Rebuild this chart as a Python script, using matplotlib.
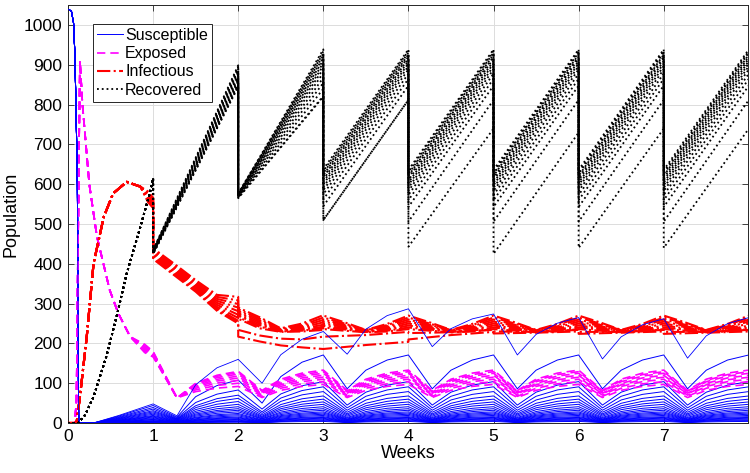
import matplotlib
matplotlib.use("Agg")
import matplotlib.pyplot as plt

plt.rcParams['font.family'] = ['Liberation Sans', 'DejaVu Sans']

# ---------------- Susceptible (blue) ----------------
s_early_t = [0, 0.04, 0.065, 0.08, 0.095, 0.11, 0.125, 0.3]
s_early_v = [1040, 1035, 1005, 930, 780, 600, 0, 0]
# top run, peaks at t=1..8 and troughs at t=1.28..7.28
s_top_peaks = [48, 160, 230, 287, 274, 265, 262, 265]
s_top_troughs = [18, 100, 173, 192, 171, 161, 163]
# other runs: (peak wk1, trough wk1, peak wk2, trough wk2, later peak, later trough)
s_runs = [
    (44, 15, 108, 50, 171, 86),
    (39, 13, 83, 35, 104, 45),
    (35, 11, 70, 28, 91, 38),
    (31, 10, 62, 24, 79, 32),
    (28, 9, 54, 20, 68, 27),
    (25, 8, 47, 17, 60, 23),
    (22, 7, 41, 15, 53, 20),
    (19, 6, 36, 13, 47, 17),
    (17, 5, 32, 11, 41, 14),
    (15, 4, 28, 10, 36, 12),
    (13, 3, 24, 8, 32, 10),
    (11, 3, 21, 7, 28, 9),
    (9, 2, 18, 6, 25, 8),
    (8, 2, 15, 5, 22, 7),
    (6, 2, 13, 4, 19, 6),
    (5, 1, 11, 3, 16, 5),
    (4, 1, 9, 3, 14, 4),
    (3, 1, 7, 2, 12, 3),
    (2, 0, 5, 2, 10, 3),
    (1, 0, 4, 1, 8, 2),
    (1, 0, 3, 1, 6, 2),
    (0, 0, 2, 1, 4, 1),
]
s_grow_frac = 0.4          # share of week-1 peak reached at t=0.6
rise_frac = [0.55, 0.85]   # share of the rise reached at phase 0.5 and 0.75

# ---------------- Exposed (magenta) ----------------
e_early_t = [0, 0.08, 0.1, 0.12, 0.14, 0.17, 0.21, 0.25, 0.34, 0.49, 0.59, 0.73]
e_early_v = [0, 0, 60, 500, 910, 800, 700, 600, 468, 334, 276, 217]
e_trough1 = 63
# (value t=0.9, value t=1, peak t=2, later trough, later peak)
e_runs = [
    (198, 180, 130, 82, 133),
    (195, 178, 127, 80, 129),
    (192, 176, 123, 78, 125),
    (189, 174, 118, 75, 120),
    (186, 172, 113, 73, 115),
    (183, 170, 107, 70, 110),
    (180, 168, 100, 67, 104),
    (177, 166, 92, 64, 97),
]

# ---------------- Infectious (red) ----------------
i_early_t = [0, 0.1, 0.14, 0.22, 0.3, 0.42, 0.53, 0.69, 0.85]
i_early_v = [0, 0, 66, 217, 401, 518, 577, 606, 594]
i_pre_t = [0.94, 1.0]
i_wk1_t = [1, 1.25, 1.5, 1.75, 2]
i_wk2_t = [2, 2.25, 2.5, 2.75, 3]
i_phase = [0, 0.25, 0.5, 0.75]
# (values t=0.94/1.0, week 1, week 2, repeating week shape)
i_main = [
    ([582, 566], [439, 400, 359, 322, 317], [290, 266, 238, 250, 271], [270, 253, 234, 249]),
    ([579, 563], [436, 396, 355, 317, 308], [286, 262, 236, 246, 265], [265, 250, 233, 246]),
    ([576, 560], [433, 392, 351, 312, 299], [282, 258, 235, 243, 259], [260, 247, 233, 243]),
    ([573, 557], [430, 389, 348, 307, 290], [278, 254, 233, 240, 253], [255, 244, 232, 240]),
    ([570, 554], [427, 386, 345, 302, 281], [274, 250, 232, 237, 247], [250, 241, 231, 237]),
    ([567, 551], [424, 383, 342, 297, 272], [270, 246, 231, 234, 242], [245, 238, 230, 234]),
    ([564, 548], [421, 380, 339, 292, 264], [266, 242, 230, 232, 238], [240, 235, 229, 232]),
    ([561, 545], [418, 377, 336, 288, 257], [262, 238, 229, 230, 234], [236, 232, 228, 230]),
]
i_low_t = [3, 3.5, 4, 4, 4.5, 5, 5, 5.5, 6, 6, 6.5, 7, 7, 7.5, 8]
i_low = [
    ([558, 542], [415, 374, 333, 285, 254], [234, 220, 212, 210, 217],
     [217, 221, 229, 226, 228, 234, 230, 229, 234, 229, 229, 234, 229, 229, 234]),
    ([555, 540], [412, 371, 330, 282, 250], [217, 205, 195, 190, 186],
     [186, 196, 204, 210, 221, 229, 225, 227, 230, 224, 227, 230, 224, 227, 230]),
]

# ---------------- Recovered (black) ----------------
r_early_t = [0, 0.12, 0.2, 0.3, 0.45, 0.57, 0.69, 0.85, 0.96, 1.0]
r_early_v = [0, 0, 20, 66, 167, 267, 376, 493, 577, 615]
# value just after the drop at t=1..7, value just before the drop at t=2..8
r_starts = [
    [435, 577, 638, 636, 636, 636, 636],
    [434, 576, 633, 631, 631, 631, 631],
    [433, 576, 628, 626, 626, 626, 626],
    [433, 575, 623, 621, 621, 621, 621],
    [432, 575, 618, 616, 616, 616, 616],
    [431, 574, 612, 610, 610, 610, 610],
    [430, 573, 606, 604, 604, 604, 604],
    [430, 572, 600, 598, 598, 598, 598],
    [429, 571, 593, 591, 591, 591, 591],
    [428, 570, 585, 583, 583, 583, 583],
    [427, 569, 575, 573, 573, 573, 573],
    [427, 568, 562, 560, 560, 560, 560],
    [426, 567, 545, 543, 543, 543, 543],
    [425, 566, 510, 506, 506, 506, 506],
    [425, 565, 510, 443, 425, 440, 440],
]
r_ends = [
    [899, 939, 939, 939, 939, 939, 939],
    [895, 934, 935, 935, 935, 935, 935],
    [891, 929, 931, 931, 931, 931, 931],
    [887, 924, 926, 926, 926, 926, 926],
    [883, 918, 921, 921, 921, 921, 921],
    [879, 912, 916, 916, 916, 916, 916],
    [874, 905, 910, 910, 910, 910, 910],
    [870, 898, 904, 904, 904, 904, 904],
    [866, 890, 897, 897, 897, 897, 897],
    [862, 880, 889, 889, 889, 889, 889],
    [858, 868, 878, 878, 878, 878, 878],
    [854, 855, 865, 865, 865, 865, 865],
    [850, 840, 848, 848, 848, 848, 848],
    [847, 822, 812, 812, 812, 812, 812],
    [845, 820, 812, 740, 730, 740, 740],
]


def s_curve(peaks, troughs):
    t = list(s_early_t) + [0.6]
    v = list(s_early_v) + [s_grow_frac * peaks[0]]
    for k in range(7):
        tr, nxt = troughs[k], peaks[k + 1]
        t += [k + 1, k + 1.28, k + 1.5, k + 1.75]
        v += [peaks[k], tr, tr + rise_frac[0] * (nxt - tr), tr + rise_frac[1] * (nxt - tr)]
    return t + [8], v + [peaks[7]]


def e_curve(run):
    v09, v1, p2, tr, pk = run
    t = list(e_early_t) + [0.9, 1.0, 1.28, 1.5, 1.75]
    v = list(e_early_v) + [v09, v1, e_trough1,
                           e_trough1 + rise_frac[0] * (p2 - e_trough1),
                           e_trough1 + rise_frac[1] * (p2 - e_trough1)]
    peaks = [p2] + [pk] * 6
    for k in range(6):
        t += [k + 2, k + 2.28, k + 2.5, k + 2.75]
        v += [peaks[k], tr, tr + rise_frac[0] * (pk - tr), tr + rise_frac[1] * (pk - tr)]
    return t + [8], v + [pk]


fig = plt.figure(figsize=(7.5, 4.73), dpi=100)
ax = fig.add_axes([0.0907, 0.1057, 0.9066, 0.8833])

handles = {}
for run in s_runs:
    p1, tr1, p2, tr2, pk, tr = run
    t, v = s_curve([p1, p2] + [pk] * 6, [tr1, tr2] + [tr] * 5)
    h, = ax.plot(t, v, color='#0000ff', lw=0.7, zorder=2)
handles['Susceptible'] = h

for run in e_runs:
    t, v = e_curve(run)
    h, = ax.plot(t, v, color='#ff00ff', ls=(0, (5, 3)), lw=1.2, zorder=3)
handles['Exposed'] = h

for pre, wk1, wk2, per in i_main:
    t = list(i_early_t) + i_pre_t + i_wk1_t + i_wk2_t
    v = list(i_early_v) + pre + wk1 + wk2
    for k in range(3, 8):
        t += [k + p for p in i_phase]
        v += per
    h, = ax.plot(t + [8], v + [per[0]], color='#ff0000', ls='-.', lw=1.5, zorder=4)
for pre, wk1, wk2, rest in i_low:
    t = list(i_early_t) + i_pre_t + i_wk1_t + i_wk2_t + i_low_t
    v = list(i_early_v) + pre + wk1 + wk2 + rest
    ax.plot(t, v, color='#ff0000', ls='-.', lw=1.5, zorder=4)
handles['Infectious'] = h

t, v = s_curve(s_top_peaks, s_top_troughs)
ax.plot(t, v, color='#0000ff', lw=0.6, zorder=5)

for starts, ends in zip(r_starts, r_ends):
    t = list(r_early_t)
    v = list(r_early_v)
    for k in range(7):
        t += [k + 1, k + 2]
        v += [starts[k], ends[k]]
    h, = ax.plot(t, v, color='black', ls=':', lw=1.3, zorder=6)
handles['Recovered'] = h

ax.set_xlim(0, 7.99)
ax.set_ylim(0, 1050)
ax.set_xticks(range(0, 8))
ax.set_yticks(range(0, 1001, 100))
ax.tick_params(direction='in', top=True, right=True, labelsize=12.5, length=4,
               color='#262626', width=0.6, pad=4)
ax.grid(True, color='#dcdcdc', lw=0.7)
ax.set_axisbelow(True)
for sp in ax.spines.values():
    sp.set_color('#262626')
    sp.set_linewidth(0.7)
ax.set_xlabel('Weeks', fontsize=13, labelpad=1)
ax.set_ylabel('Population', fontsize=13, labelpad=3)

leg = ax.legend(list(handles.values()), list(handles.keys()), loc='upper left',
                bbox_to_anchor=(0.037, 0.955), borderaxespad=0, fontsize=11.5,
                fancybox=False, framealpha=1, edgecolor='#262626',
                handlelength=1.6, handletextpad=0.15, labelspacing=0.2,
                borderpad=0.25)
leg.get_frame().set_linewidth(0.7)
leg.set_zorder(10)

fig.savefig('out.png', dpi=100)
